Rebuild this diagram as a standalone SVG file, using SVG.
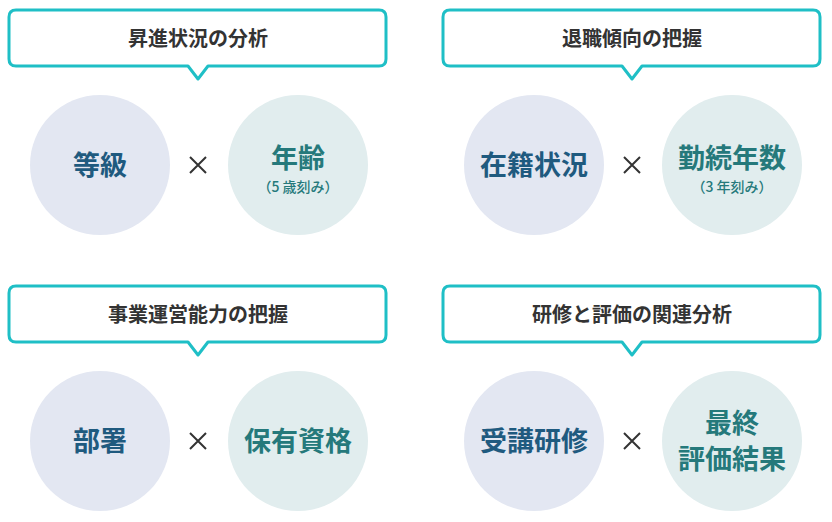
<svg xmlns="http://www.w3.org/2000/svg" width="832" height="522" viewBox="0 0 832 522">
<defs>
<style>
text{font-family:"Noto Sans CJK JP","Noto Sans",sans-serif;text-anchor:middle}
.box{fill:#fff;stroke:#1fbfc6;stroke-width:3;stroke-linejoin:round}
.title{font-size:20px;font-weight:700;fill:#333}
.c1{fill:#e3e7f2}.c2{fill:#e1edee}
.t1{font-size:27px;font-weight:700;fill:#1f5a7f}
.t2{font-size:27px;font-weight:700;fill:#25797b}
.sub{font-size:14px;font-weight:500;fill:#25797b}
.x{stroke:#333;stroke-width:2}
</style>
<g id="panel"><path class="box" d="M16,10 H379 Q386,10 386,17 V59 Q386,66 379,66 H208 L198,79 L188,66 H16 Q9,66 9,59 V17 Q9,10 16,10 Z"/>
<circle class="c1" cx="100" cy="165" r="70"/><circle class="c2" cx="298" cy="165" r="70"/>
<path class="x" d="M190,157 L206,173 M206,157 L190,173"/></g>
</defs>
<g id="p1"><use href="#panel"/>
<text class="title" x="198" y="46">昇進状況の分析</text>
<text class="t1" x="100" y="175">等級</text>
<text class="t2" x="298" y="168">年齢</text><text class="sub" x="298" y="192">（5 歳刻み）</text></g>
<g id="p2" transform="translate(434,0)"><use href="#panel"/>
<text class="title" x="198" y="46">退職傾向の把握</text>
<text class="t1" x="100" y="175">在籍状況</text>
<text class="t2" x="298" y="168">勤続年数</text><text class="sub" x="298" y="192">（3 年刻み）</text></g>
<g id="p3" transform="translate(0,276)"><use href="#panel"/>
<text class="title" x="198" y="46">事業運営能力の把握</text>
<text class="t1" x="100" y="175">部署</text>
<text class="t2" x="298" y="175">保有資格</text></g>
<g id="p4" transform="translate(434,276)"><use href="#panel"/>
<text class="title" x="198" y="46">研修と評価の関連分析</text>
<text class="t1" x="100" y="175">受講研修</text>
<text class="t2" x="298" y="157">最終</text><text class="t2" x="298" y="193">評価結果</text></g>
<g id="connectors"/>
</svg>
